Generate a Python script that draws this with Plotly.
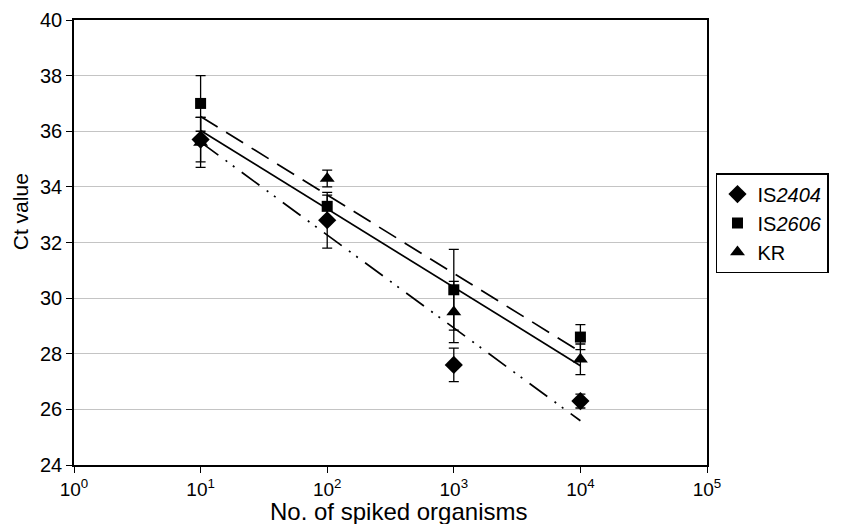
import numpy as np
import plotly.graph_objects as go

# ---- data ----
organisms = [10, 100, 1000, 10000]
is2404_ct = [35.7, 32.8, 27.6, 26.3]
is2404_err = [0.8, 1.0, 0.6, 0.25]
is2606_ct = [37.0, 33.3, 30.3, 28.6]
is2606_err = [1.0, 0.4, 1.45, 0.45]
kr_ct = [35.6, 34.3, 29.5, 27.8]
kr_err = [0.9, 0.3, 1.1, 0.55]

x_tickvals = [1, 10, 100, 1000, 10000, 100000]
x_ticktext = ["10<sup>0</sup>", "10<sup>1</sup>", "10<sup>2</sup>",
              "10<sup>3</sup>", "10<sup>4</sup>", "10<sup>5</sup>"]
y_tickvals = [24, 26, 28, 30, 32, 34, 36, 38, 40]
x_title = "No. of spiked organisms"
y_title = "Ct value"

FONT = "Liberation Sans, Arial, sans-serif"

series = [
    ("IS<i>2404</i>", is2404_ct, is2404_err, "diamond", 14, "22px,9px,2px,7px,2px,9px"),
    ("IS<i>2606</i>", is2606_ct, is2606_err, "square", 11, "20px,10px"),
    ("KR", kr_ct, kr_err, "triangle-up", 13, "solid"),
]

fig = go.Figure()

# regression (trend) lines, fitted on log10 of the counts
lx = np.log10(np.array(organisms, dtype=float))
for name, ct, err, sym, size, dash in series:
    slope, icpt = np.polyfit(lx, np.array(ct), 1)
    xs = [organisms[0], organisms[-1]]
    ys = [icpt + slope * np.log10(v) for v in xs]
    fig.add_trace(go.Scatter(
        x=xs, y=ys, mode="lines",
        line=dict(color="black", width=1.7, dash=dash),
        showlegend=False, hoverinfo="skip"))

for name, ct, err, sym, size, dash in series:
    fig.add_trace(go.Scatter(
        x=organisms, y=ct, mode="markers", name=name,
        marker=dict(symbol=sym, size=size, color="black"),
        error_y=dict(type="data", array=err, visible=True,
                     color="black", thickness=1.3, width=5)))

fig.add_annotation(text=x_title, xref="paper", yref="paper",
                   x=0.512, y=-0.1035, xanchor="center", yanchor="middle",
                   showarrow=False, font=dict(family=FONT, size=24, color="black"))
fig.add_annotation(text=y_title, xref="paper", yref="paper",
                   x=-0.085, y=0.5685, xanchor="center", yanchor="middle",
                   textangle=-90, showarrow=False,
                   font=dict(family=FONT, size=21, color="black"))

fig.update_layout(
    width=841, height=524,
    margin=dict(l=66, r=142, t=12, b=67),
    paper_bgcolor="white", plot_bgcolor="white",
    font=dict(family=FONT, size=20, color="black"),
    showlegend=True,
    legend=dict(x=1.0142, y=0.656, xanchor="left", yanchor="top",
                bordercolor="black", borderwidth=1.5,
                font=dict(family=FONT, size=20, color="black"),
                itemwidth=30, tracegroupgap=0),
    xaxis=dict(type="log", range=[0, 5], tickvals=x_tickvals, ticktext=x_ticktext,
               showgrid=False, zeroline=False, automargin=False,
               showline=True, linecolor="black", linewidth=1.5, mirror=True,
               ticks="outside", ticklen=6, tickcolor="black", tickwidth=1.3,
               tickfont=dict(family=FONT, size=19)),
    yaxis=dict(range=[24, 40], tickvals=y_tickvals,
               showgrid=True, gridcolor="#c4c4c4", gridwidth=1.2,
               zeroline=False, automargin=False,
               showline=True, linecolor="black", linewidth=1.5, mirror=True,
               ticks="outside", ticklen=6, tickcolor="black", tickwidth=1.3,
               tickfont=dict(family=FONT, size=20)),
)

fig.write_html("out.html")
